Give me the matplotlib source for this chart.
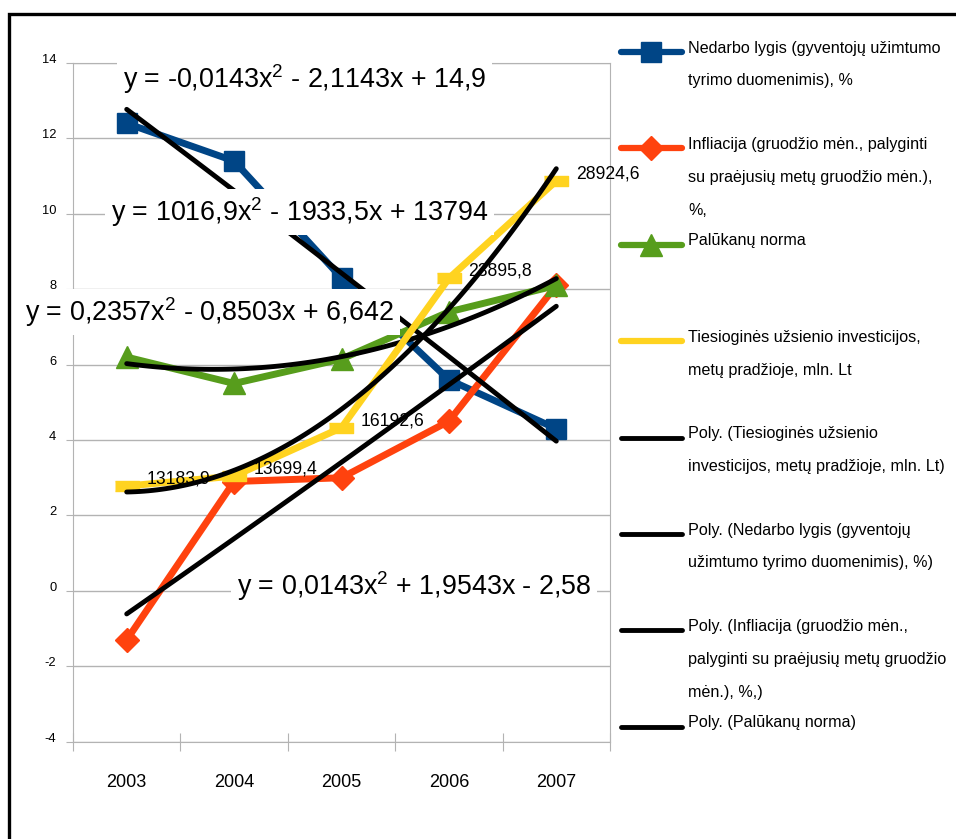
import numpy as np
import matplotlib
matplotlib.use('Agg')
import matplotlib.pyplot as plt

plt.rcParams['font.family'] = ['Liberation Sans', 'DejaVu Sans']
plt.rcParams['axes.unicode_minus'] = False

years = ['2003', '2004', '2005', '2006', '2007']
nedarbo = [12.4, 11.4, 8.3, 5.6, 4.3]
infliacija = [-1.3, 2.9, 3.0, 4.5, 8.1]
palukanos = [6.2, 5.5, 6.15, 7.4, 8.1]
investicijos = [13183.9, 13699.4, 16192.6, 23895.8, 28924.6]
invest_labels = ['13183,9', '13699,4', '16192,6', '23895,8', '28924,6']

# polynomial trend coefficients as printed on the chart (x = 1..5)
trend_nedarbo = [-0.0143, -2.1143, 14.9]
trend_infliacija = [0.0143, 1.9543, -2.58]
trend_palukanos = [0.2357, -0.8503, 6.642]
trend_invest = [1016.9, -1933.5, 13794]

eq_texts = [
    'y = -0,0143$\\mathregular{x^2}$ - 2,1143x + 14,9',
    'y = 1016,9$\\mathregular{x^2}$ - 1933,5x + 13794',
    'y = 0,2357$\\mathregular{x^2}$ - 0,8503x + 6,642',
    'y = 0,0143$\\mathregular{x^2}$ + 1,9543x - 2,58',
]
eq_pos = [(123, 79), (111, 212), (25, 312), (237, 586)]

legend_lines = [
    ['Nedarbo lygis (gyventojų užimtumo', 'tyrimo duomenimis), %'],
    ['Infliacija (gruodžio mėn., palyginti', 'su praėjusių metų gruodžio mėn.),', '%,'],
    ['Palūkanų norma'],
    ['Tiesioginės užsienio investicijos,', 'metų pradžioje, mln. Lt'],
    ['Poly. (Tiesioginės užsienio', 'investicijos, metų pradžioje, mln. Lt)'],
    ['Poly. (Nedarbo lygis (gyventojų', 'užimtumo tyrimo duomenimis), %)'],
    ['Poly. (Infliacija (gruodžio mėn.,', 'palyginti su praėjusių metų gruodžio', 'mėn.), %,)'],
    ['Poly. (Palūkanų norma)'],
]

BLUE = '#004586'
RED = '#ff420e'
GREEN = '#579d1c'
YELLOW = '#ffd320'
GRID = '#b3b3b3'
bar_marker = [(-1.2, -0.5), (1.2, -0.5), (1.2, 0.5), (-1.2, 0.5)]

W, H = 956, 839
fig = plt.figure(figsize=(W / 100, H / 100), dpi=100)

# main plot area
ax = fig.add_axes([73 / W, 1 - 741.7 / H, (610 - 73) / W, (741.7 - 63) / H])
x = np.arange(len(years))
t = np.linspace(0, 4, 100)

ax.plot(x, nedarbo, color=BLUE, lw=5, marker='s', ms=15)
ax.plot(x, infliacija, color=RED, lw=5, marker='D', ms=12)
ax.plot(x, palukanos, color=GREEN, lw=5, marker='^', ms=16)
for c in [trend_nedarbo, trend_infliacija, trend_palukanos]:
    ax.plot(t, np.polyval(c, t + 1), color='black', lw=3.5, zorder=3,
            solid_capstyle='round')

ax.set_xlim(-0.5, 4.5)
ax.set_ylim(-4, 14)
ax.set_yticks(range(-4, 15, 2))
ax.grid(axis='y', color=GRID, lw=1)
for s in ax.spines.values():
    s.set_color(GRID)
ax.tick_params(axis='y', length=5, color=GRID, labelsize=9.3, pad=7)
for lbl in ax.get_yticklabels():
    lbl.set_va('baseline')
ax.set_xticks(np.arange(-0.5, 5, 1))
ax.set_xticklabels([''] * 6)
ax.tick_params(axis='x', which='major', direction='inout', length=13, color=GRID)
ax.set_xticks(x, minor=True)
ax.set_xticklabels(years, minor=True)
ax.tick_params(axis='x', which='minor', length=0, pad=23, labelsize=13)

# investments on a hidden secondary axis
ax2 = ax.twinx()
ax2.set_ylim(0, 35000)
ax2.axis('off')
ax2.plot(x, investicijos, color=YELLOW, lw=5, marker=bar_marker, ms=17)
ax2.plot(t, np.polyval(trend_invest, t + 1), color='black', lw=3.5,
         solid_capstyle='round')
for i, v in enumerate(investicijos):
    ax2.annotate(invest_labels[i], (i, v), xytext=(14, 5), textcoords='offset points',
                 ha='left', va='center', fontsize=12.7)

# overlay in pixel coordinates: border, equations, legend
ov = fig.add_axes([0, 0, 1, 1])
ov.set_xlim(0, W)
ov.set_ylim(H, 0)
ov.axis('off')
ov.plot([9, 9, W], [H, 13.5, 13.5], color='black', lw=2.4, solid_joinstyle='miter')

for txt, (ex, ey) in zip(eq_texts, eq_pos):
    ov.text(ex, ey, txt, fontsize=19.4, ha='left', va='center',
            bbox=dict(boxstyle='square,pad=0.22', fc='white', ec='none'))

styles = [(BLUE, 's', 15), (RED, 'D', 12), (GREEN, '^', 16), (YELLOW, None, 0),
          ('black', None, 0), ('black', None, 0), ('black', None, 0), ('black', None, 0)]
for i, (lines, (col, mk, ms)) in enumerate(zip(legend_lines, styles)):
    yh = 52 + 96.4 * i
    lw = 4.5 if col != 'black' else 3.5
    ov.plot([621, 682], [yh, yh], color=col, lw=lw, solid_capstyle='round')
    if mk:
        ov.plot([651], [yh], color=col, marker=mk, ms=ms)
    for j, line in enumerate(lines):
        ov.text(688, yh - 4 + 33 * j, line, fontsize=11.6, ha='left', va='center')

fig.savefig('out.png', dpi=100)
